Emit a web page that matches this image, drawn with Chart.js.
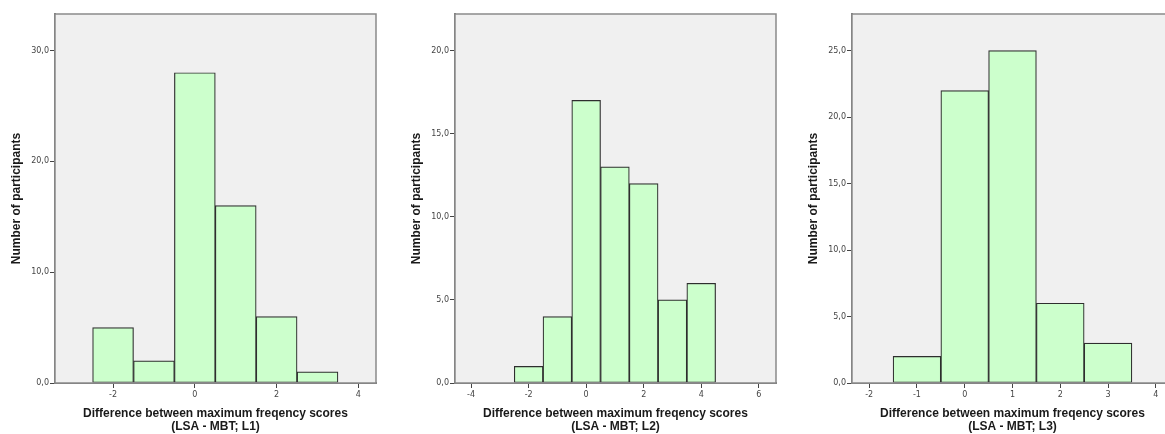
<!DOCTYPE html>
<html>
<head>
<meta charset="utf-8">
<script src="https://cdn.jsdelivr.net/npm/chart.js@4.4.1/dist/chart.umd.min.js"></script>
<style>
  body { margin: 0; width: 1165px; height: 434px; overflow: hidden; background: #fff; position: relative; }
  canvas { position: absolute; top: 0; }
</style>
</head>
<body>
<canvas id="chartL1" width="390" height="434" style="left:0px"></canvas>
<canvas id="chartL2" width="390" height="434" style="left:390px"></canvas>
<canvas id="chartL3" width="410" height="434" style="left:775px"></canvas>
<script>
// bin centres and counts
const binsL1 = [-2, -1, 0, 1, 2, 3];
const countsL1 = [5, 2, 28, 16, 6, 1];
const binsL2 = [-2, -1, 0, 1, 2, 3, 4];
const countsL2 = [1, 4, 17, 13, 12, 5, 6];
const binsL3 = [-1, 0, 1, 2, 3];
const countsL3 = [2, 22, 25, 6, 3];

// tick labels
const xTicksL1 = [-2, 0, 2, 4];
const xTicksL2 = [-4, -2, 0, 2, 4, 6];
const xTicksL3 = [-2, -1, 0, 1, 2, 3, 4];
const yTicksL1 = [0, 10, 20, 30];
const yTicksL2 = [0, 5, 10, 15, 20];
const yTicksL3 = [0, 5, 10, 15, 20, 25];

const yTitle = 'Number of participants';
const xTitleLine = 'Difference between maximum freqency scores';

// grey plot background + frame round the plot area
const framePlugin = {
  id: 'frame',
  beforeDatasetsDraw(chart) {
    const a = chart.chartArea;
    const ctx = chart.ctx;
    ctx.save();
    ctx.fillStyle = '#f0f0f0';
    ctx.fillRect(a.left, a.top, a.right - a.left, a.bottom - a.top);
    ctx.restore();
  },
  afterDatasetsDraw(chart) {
    const a = chart.chartArea;
    const ctx = chart.ctx;
    ctx.save();
    ctx.strokeStyle = '#8a8a8a';
    ctx.lineWidth = 1.5;
    ctx.strokeRect(a.left, a.top, a.right - a.left, a.bottom - a.top);
    ctx.restore();
  }
};

function makeHistogram(canvasId, bins, counts, opts) {
  const data = {
    datasets: [{
      data: bins.map((b, i) => ({ x: b, y: counts[i] })),
      backgroundColor: '#ccffcc',
      borderColor: '#2e2e2e',
      borderWidth: 1.2,
      borderSkipped: false,
      barPercentage: 1,
      categoryPercentage: 1
    }]
  };
  const config = {
    type: 'bar',
    data: data,
    plugins: [framePlugin],
    options: {
      responsive: false,
      animation: false,
      layout: { padding: { left: 0, top: 14, right: opts.padRight, bottom: 0 } },
      plugins: { legend: { display: false }, tooltip: { enabled: false } },
      scales: {
        x: {
          type: 'linear',
          offset: false,
          min: opts.xMin,
          max: opts.xMax,
          afterBuildTicks: s => { s.ticks = opts.xTicks.map(v => ({ value: v })); },
          afterFit: s => { s.height = 51; },
          grid: { offset: false, drawOnChartArea: false, drawTicks: true, tickLength: 5, color: '#444' },
          border: { display: true, color: '#777', width: 2 },
          ticks: {
            font: { family: 'DejaVu Sans', size: 8 },
            color: '#444',
            padding: 2,
            maxRotation: 0,
            callback: v => String(v)
          },
          title: {
            display: true,
            text: [xTitleLine, opts.xTitle2],
            font: { family: 'Liberation Sans', size: 12, weight: 'bold', lineHeight: 1.08 },
            color: '#1a1a1a',
            padding: { top: 0, bottom: 0.5 }
          }
        },
        y: {
          min: 0,
          max: opts.yMax,
          afterBuildTicks: s => { s.ticks = opts.yTicks.map(v => ({ value: v })); },
          afterFit: s => { s.width = opts.yWidth; },
          grid: { drawOnChartArea: false, drawTicks: true, tickLength: 5, color: '#444' },
          border: { display: true, color: '#777', width: 2 },
          ticks: {
            font: { family: 'DejaVu Sans', size: 8 },
            color: '#444',
            padding: 1,
            callback: v => v.toFixed(1).replace('.', ',')
          },
          title: {
            display: true,
            text: yTitle,
            font: { family: 'Liberation Sans', size: 12, weight: 'bold' },
            color: '#1a1a1a',
            padding: { top: opts.yTitlePad, bottom: 0 }
          }
        }
      }
    }
  };
  return new Chart(document.getElementById(canvasId), config);
}

makeHistogram('chartL1', binsL1, countsL1, {
  xMin: -3.42, xMax: 4.43, xTicks: xTicksL1,
  yMax: 33.3, yTicks: yTicksL1, yWidth: 55, yTitlePad: 9.8,
  padRight: 14, xTitle2: '(LSA - MBT; L1)'
});
makeHistogram('chartL2', binsL2, countsL2, {
  xMin: -4.56, xMax: 6.6, xTicks: xTicksL2,
  yMax: 22.2, yTicks: yTicksL2, yWidth: 65, yTitlePad: 19.8,
  padRight: 4, xTitle2: '(LSA - MBT; L2)'
});
makeHistogram('chartL3', binsL3, countsL3, {
  xMin: -2.36, xMax: 4.36, xTicks: xTicksL3,
  yMax: 27.76, yTicks: yTicksL3, yWidth: 77, yTitlePad: 31.8,
  padRight: 12, xTitle2: '(LSA - MBT; L3)'
});
</script>
</body>
</html>
